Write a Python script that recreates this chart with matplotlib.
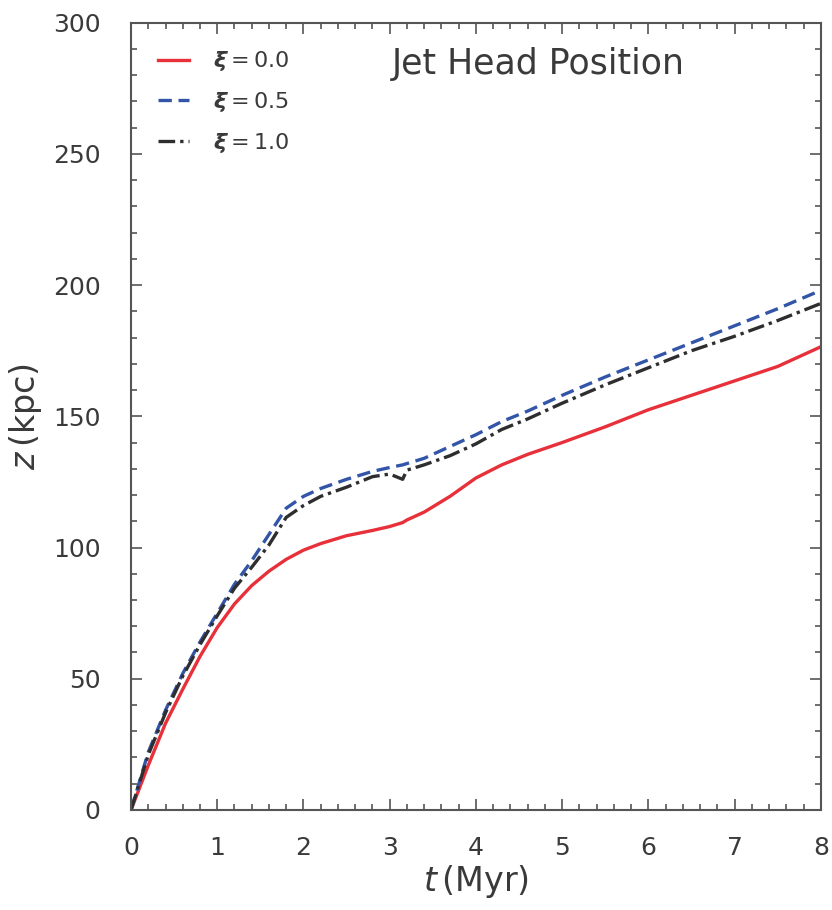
import matplotlib
matplotlib.use("Agg")
import matplotlib.pyplot as plt
from matplotlib.ticker import MultipleLocator

# Jet head position z(t) for three values of xi
t = [0.0, 0.2, 0.4, 0.6, 0.8, 1.0, 1.2, 1.4, 1.6, 1.8, 2.0, 2.2, 2.5, 2.8,
     3.0, 3.15, 3.2, 3.4, 3.7, 4.0, 4.3, 4.6, 5.0, 5.5, 6.0, 6.5, 7.0, 7.5, 8.0]

z_xi00 = [0.0, 17.0, 33.0, 46.0, 58.5, 69.5, 78.5, 85.5, 91.0, 95.5, 99.0, 101.5,
          104.5, 106.5, 108.0, 109.5, 110.5, 113.5, 119.5, 126.5, 131.5, 135.5,
          140.0, 146.0, 152.5, 158.0, 163.5, 169.0, 176.5]
z_xi05 = [0.0, 22.0, 38.0, 52.0, 64.0, 75.0, 86.0, 95.0, 105.0, 115.0, 119.5,
          122.5, 126.0, 129.0, 130.5, 131.5, 132.0, 134.0, 138.5, 143.0, 148.0,
          152.0, 158.0, 165.0, 171.5, 178.0, 184.5, 191.0, 198.0]
z_xi10 = [0.0, 21.0, 37.0, 51.0, 63.0, 74.0, 84.5, 92.5, 101.0, 111.5, 116.0,
          119.5, 123.0, 127.0, 128.0, 126.0, 129.5, 131.5, 135.0, 139.5, 145.0,
          149.0, 155.0, 162.0, 168.5, 175.0, 180.5, 186.5, 193.0]

labels = [r"$\boldsymbol{\xi} = 0.0$", r"$\boldsymbol{\xi} = 0.5$", r"$\boldsymbol{\xi} = 1.0$"]
x_ticks = [0, 1, 2, 3, 4, 5, 6, 7, 8]
y_ticks = [0, 50, 100, 150, 200, 250, 300]

plt.rcParams["font.family"] = ["DejaVu Sans"]
plt.rcParams["mathtext.fontset"] = "dejavusans"

text_col = "#3a3a3a"
spine_col = "#555555"

fig = plt.figure(figsize=(8.32, 9.10), dpi=100)
ax = fig.add_axes([0.1575, 0.110, 0.829, 0.865])

ax.plot(t, z_xi00, color="#e8303a", lw=2.4, ls="-", label=labels[0])
ax.plot(t, z_xi05, color="#3355a8", lw=2.4, ls=(0, (4, 2)), label=labels[1])
ax.plot(t, z_xi10, color="#2e2e2e", lw=2.4, ls=(0, (5, 1.5, 1, 1.5)), label=labels[2])

ax.set_xlim(0, 8)
ax.set_ylim(0, 300)
ax.set_xticks(x_ticks)
ax.set_yticks(y_ticks)
ax.xaxis.set_minor_locator(MultipleLocator(0.2))
ax.yaxis.set_minor_locator(MultipleLocator(10))
ax.tick_params(which="both", direction="in", top=True, right=True,
               color=spine_col, labelcolor=text_col, labelsize=18, width=1.2)
ax.tick_params(which="major", length=8)
ax.tick_params(axis="x", which="major", pad=19)
ax.tick_params(axis="y", which="major", pad=22)
ax.tick_params(which="minor", length=4.5)
for s in ax.spines.values():
    s.set_color(spine_col)
    s.set_linewidth(1.5)

ax.set_xlabel(r"$t\,$(Myr)", fontsize=24, color=text_col, labelpad=2)
ax.set_ylabel(r"$z\,$(kpc)", fontsize=24, color=text_col, labelpad=6)

ax.text(0.59, 0.947, "Jet Head Position", transform=ax.transAxes,
        ha="center", va="center", fontsize=25, color=text_col)

leg = ax.legend(loc="upper left", frameon=False, fontsize=16, handlelength=1.4,
                handletextpad=1.1, labelspacing=0.75, borderaxespad=0.8,
                bbox_to_anchor=(0.0, 1.0))
for txt in leg.get_texts():
    txt.set_color(text_col)

fig.savefig("out.png", dpi=100)
